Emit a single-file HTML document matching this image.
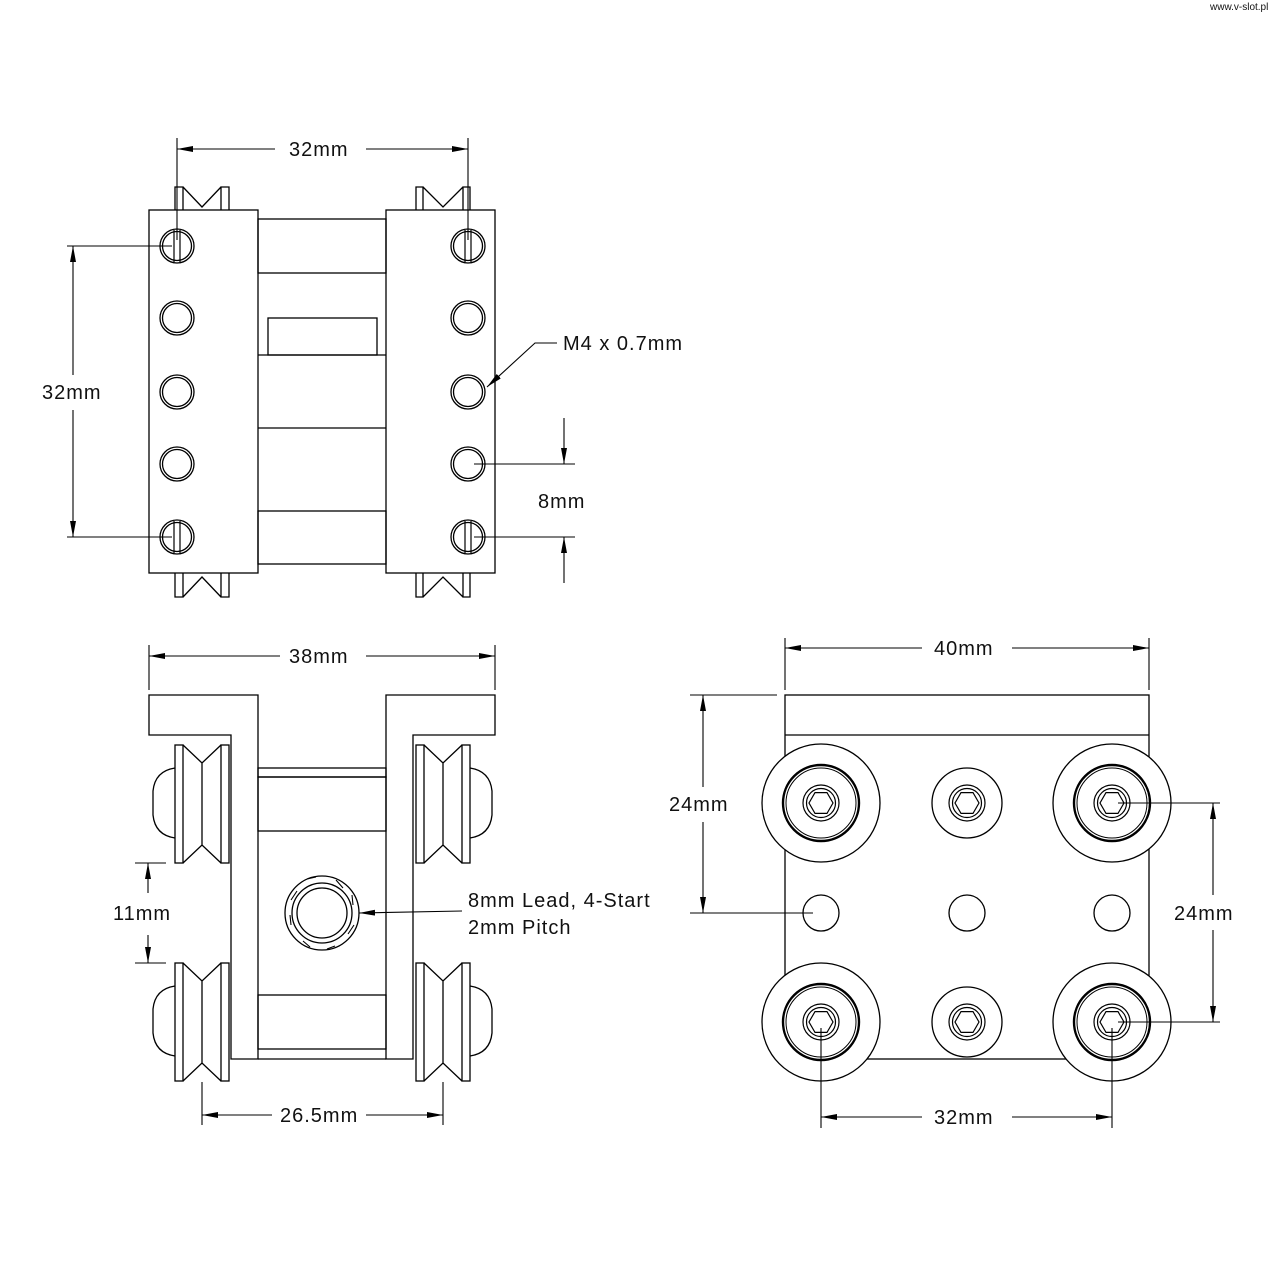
<!DOCTYPE html>
<html><head><meta charset="utf-8"><style>
html,body{margin:0;padding:0;background:#fff;}
svg{display:block;}
text{font-family:"Liberation Sans",sans-serif;font-size:20px;letter-spacing:1px;fill:#111;}
</style></head><body>
<svg width="1280" height="1280" viewBox="0 0 1280 1280" xmlns="http://www.w3.org/2000/svg">
<defs>
<marker id="a" viewBox="0 0 16 6" refX="16" refY="3" markerWidth="16" markerHeight="6" markerUnits="userSpaceOnUse" orient="auto-start-reverse"><path d="M0,0 L16,3 L0,6 Z" fill="#000"/></marker>
<g id="hole"><circle r="17" fill="none" stroke="#000" stroke-width="1.3"/><circle r="14.5" fill="none" stroke="#000" stroke-width="1.3"/></g>
<g id="shole"><use href="#hole"/><line x1="-3" y1="-16" x2="-3" y2="16" stroke="#000" stroke-width="1.2"/><line x1="3" y1="-16" x2="3" y2="16" stroke="#000" stroke-width="1.2"/></g>
<g id="hex" fill="none" stroke="#000" stroke-width="1.2"><circle r="18"/><circle r="14.5"/><polygon points="12,0 6,10.4 -6,10.4 -12,0 -6,-10.4 6,-10.4"/></g>
<g id="bigw" fill="none" stroke="#000"><circle r="59" stroke-width="1.3"/><circle r="38" stroke-width="2.4"/><circle r="35" stroke-width="1"/><use href="#hex"/></g>
<g id="midw" fill="none" stroke="#000"><circle r="35" stroke-width="1.3"/><use href="#hex"/></g>
<g id="whL" fill="none" stroke="#000" stroke-width="1.3">
<path d="M0,23 Q-20,26 -22,46 V70 Q-20,90 0,93" fill="#fff"/>
<rect x="0" y="0" width="8" height="118" fill="#fff"/>
<rect x="46" y="0" width="8" height="118" fill="#fff"/>
<path d="M8,0 L27,18 L46,0 M8,118 L27,100 L46,118 M27,18 L27,100"/>
</g>
</defs>
<text x="1210" y="10" style="font-size:10px;letter-spacing:0">www.v-slot.pl</text>

<g fill="none" stroke="#000" stroke-width="1.3">
<path d="M175,210 V187 H183 V210 M221,210 V187 H229 V210 M183,187 L202,207 L221,187"/>
<path d="M416,210 V187 H423 V210 M463,210 V187 H470 V210 M423,187 L443,207 L463,187"/>
<path d="M175,573 V597 H183 V573 M221,573 V597 H229 V573 M183,597 L202,577 L221,597"/>
<path d="M416,573 V597 H423 V573 M463,573 V597 H470 V573 M423,597 L443,577 L463,597"/>
<rect x="149" y="210" width="109" height="363" fill="#fff"/>
<rect x="386" y="210" width="109" height="363" fill="#fff"/>
<rect x="258" y="219" width="128" height="54"/>
<rect x="258" y="511" width="128" height="53"/>
<line x1="258" y1="355" x2="386" y2="355"/>
<line x1="258" y1="428" x2="386" y2="428"/>
<rect x="268" y="318" width="109" height="37"/>
</g>
<use href="#shole" x="177" y="246"/><use href="#hole" x="177" y="318"/><use href="#hole" x="177" y="392"/><use href="#hole" x="177" y="464"/><use href="#shole" x="177" y="537"/>
<use href="#shole" x="468" y="246"/><use href="#hole" x="468" y="318"/><use href="#hole" x="468" y="392"/><use href="#hole" x="468" y="464"/><use href="#shole" x="468" y="537"/>

<g stroke="#000" stroke-width="1.1" fill="none">
<line x1="177" y1="138" x2="177" y2="240"/><line x1="468" y1="138" x2="468" y2="240"/>
<line x1="177" y1="149" x2="275" y2="149" marker-start="url(#a)"/><line x1="366" y1="149" x2="468" y2="149" marker-end="url(#a)"/>
<line x1="67" y1="246" x2="172" y2="246"/><line x1="67" y1="537" x2="172" y2="537"/>
<line x1="73" y1="246" x2="73" y2="375" marker-start="url(#a)"/><line x1="73" y1="410" x2="73" y2="537" marker-end="url(#a)"/>
<polyline points="557,343 535,343 487,387" marker-end="url(#a)"/>
<line x1="474" y1="464" x2="575" y2="464"/><line x1="474" y1="537" x2="575" y2="537"/>
<line x1="564" y1="418" x2="564" y2="464" marker-end="url(#a)"/>
<line x1="564" y1="583" x2="564" y2="537" marker-end="url(#a)"/>
</g>
<text x="289" y="156">32mm</text>
<text x="42" y="399">32mm</text>
<text x="563" y="350">M4 x 0.7mm</text>
<text x="538" y="508">8mm</text>

<g fill="none" stroke="#000" stroke-width="1.3">
<path d="M149,695 H258 V1059 H231 V735 H149 Z"/>
<path d="M495,695 H386 V1059 H413 V735 H495 Z"/>
<rect x="258" y="768" width="128" height="9"/>
<rect x="258" y="777" width="128" height="54"/>
<rect x="258" y="995" width="128" height="54"/>
<line x1="258" y1="1059" x2="386" y2="1059"/>
<circle cx="322" cy="913" r="37"/>
<circle cx="322" cy="913" r="30"/>
<circle cx="322" cy="913" r="25"/>
<path d="M336,880 L343,888 M352,895 L353,905 M354,925 L348,934 M335,946 L327,949 M310,947 L303,941 M291,925 L290,915 M291,900 L297,891 M307,879 L316,877" stroke-width="1.1"/>
</g>
<use href="#whL" x="175" y="745"/>
<use href="#whL" x="175" y="963"/>
<use href="#whL" transform="translate(470,745) scale(-1,1)"/>
<use href="#whL" transform="translate(470,963) scale(-1,1)"/>

<g stroke="#000" stroke-width="1.1" fill="none">
<line x1="149" y1="645" x2="149" y2="690"/><line x1="495" y1="645" x2="495" y2="690"/>
<line x1="149" y1="656" x2="280" y2="656" marker-start="url(#a)"/><line x1="366" y1="656" x2="495" y2="656" marker-end="url(#a)"/>
<line x1="135" y1="863" x2="166" y2="863"/><line x1="135" y1="963" x2="166" y2="963"/>
<line x1="148" y1="893" x2="148" y2="863" marker-end="url(#a)"/>
<line x1="148" y1="935" x2="148" y2="963" marker-end="url(#a)"/>
<line x1="202" y1="1082" x2="202" y2="1125"/><line x1="443" y1="1082" x2="443" y2="1125"/>
<line x1="202" y1="1115" x2="272" y2="1115" marker-start="url(#a)"/><line x1="366" y1="1115" x2="443" y2="1115" marker-end="url(#a)"/>
<line x1="462" y1="911" x2="359" y2="913" marker-end="url(#a)"/>
</g>
<text x="289" y="663">38mm</text>
<text x="113" y="920">11mm</text>
<text x="280" y="1122">26.5mm</text>
<text x="468" y="907">8mm Lead, 4-Start</text>
<text x="468" y="934">2mm Pitch</text>

<g fill="none" stroke="#000" stroke-width="1.3">
<rect x="785" y="695" width="364" height="364"/>
<line x1="785" y1="735" x2="1149" y2="735"/>
<circle cx="821" cy="913" r="18"/><circle cx="967" cy="913" r="18"/><circle cx="1112" cy="913" r="18"/>
</g>
<g fill="#fff"><circle cx="821" cy="803" r="59"/><circle cx="1112" cy="803" r="59"/><circle cx="821" cy="1022" r="59"/><circle cx="1112" cy="1022" r="59"/></g>
<use href="#bigw" x="821" y="803"/><use href="#bigw" x="1112" y="803"/><use href="#bigw" x="821" y="1022"/><use href="#bigw" x="1112" y="1022"/>
<use href="#midw" x="967" y="803"/><use href="#midw" x="967" y="1022"/>

<g stroke="#000" stroke-width="1.1" fill="none">
<line x1="785" y1="638" x2="785" y2="690"/><line x1="1149" y1="638" x2="1149" y2="690"/>
<line x1="785" y1="648" x2="922" y2="648" marker-start="url(#a)"/><line x1="1012" y1="648" x2="1149" y2="648" marker-end="url(#a)"/>
<line x1="690" y1="695" x2="777" y2="695"/><line x1="690" y1="913" x2="813" y2="913"/>
<line x1="703" y1="695" x2="703" y2="787" marker-start="url(#a)"/><line x1="703" y1="822" x2="703" y2="913" marker-end="url(#a)"/>
<line x1="1118" y1="803" x2="1220" y2="803"/><line x1="1118" y1="1022" x2="1220" y2="1022"/>
<line x1="1213" y1="803" x2="1213" y2="895" marker-start="url(#a)"/><line x1="1213" y1="930" x2="1213" y2="1022" marker-end="url(#a)"/>
<line x1="821" y1="1028" x2="821" y2="1128"/><line x1="1112" y1="1028" x2="1112" y2="1128"/>
<line x1="821" y1="1117" x2="922" y2="1117" marker-start="url(#a)"/><line x1="1012" y1="1117" x2="1112" y2="1117" marker-end="url(#a)"/>
</g>
<text x="934" y="655">40mm</text>
<text x="669" y="811">24mm</text>
<text x="1174" y="920">24mm</text>
<text x="934" y="1124">32mm</text>
</svg>
</body></html>
